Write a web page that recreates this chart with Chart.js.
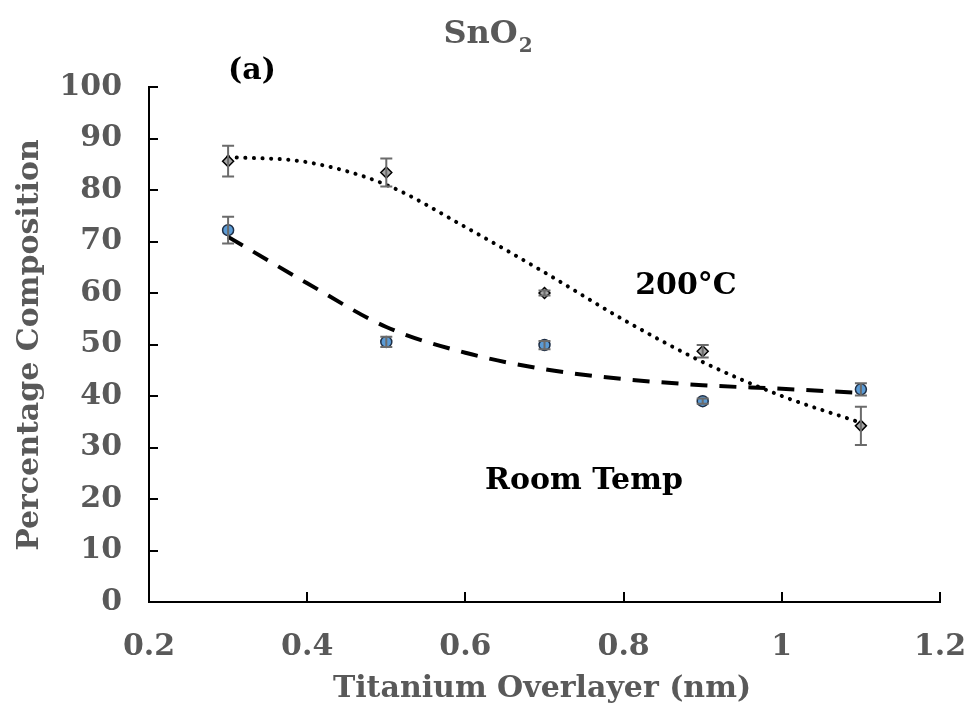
<!DOCTYPE html>
<html>
<head>
<meta charset="utf-8">
<script src="https://cdn.jsdelivr.net/npm/chart.js@4/dist/chart.umd.min.js"></script>
<style>
  html, body { margin: 0; padding: 0; background: #fff; }
  #wrap { width: 969px; height: 708px; }
</style>
</head>
<body>
<div id="wrap"><canvas id="c"></canvas></div>
<script>
// values
const thickness  = [0.3, 0.5, 0.7, 0.9, 1.1]
const hotValues  = [85.6, 83.4, 60.0, 48.7, 34.2]   // 200°C
const hotErrors  = [3.0, 2.7, 0.5, 1.2, 3.7]
const roomValues = [72.2, 50.5, 49.9, 39.0, 41.3]   // room temp
const roomErrors = [2.6, 1.0, 0.8, 0.5, 1.2]

// trend lines as drawn in the figure
const trendX    = [0.3, 0.4, 0.5, 0.6, 0.7, 0.8, 0.9, 1.0, 1.1]
const hotTrend  = [86.4, 85.4, 81.0, 72.8, 64.0, 54.8, 46.6, 40.0, 34.8]
const roomTrend = [70.9, 61.9, 53.4, 48.4, 45.2, 43.3, 42.1, 41.4, 40.6]

const xTicks = [0.2, 0.4, 0.6, 0.8, 1, 1.2]
const yTicks = [0, 10, 20, 30, 40, 50, 60, 70, 80, 90, 100]

const GREY = '#595959'
const FONT = '"DejaVu Serif", Georgia, serif'

function pts(xs, ys){
  return xs.map((x, i) => ({x: x, y: ys[i]}))
}

const errorBars = {
  id: 'errorBars',
  afterDatasetsDraw(chart){
    const ctx = chart.ctx, xs = chart.scales.x, ys = chart.scales.y
    const sets = [[hotValues, hotErrors], [roomValues, roomErrors]]
    ctx.save()
    ctx.strokeStyle = '#6b6b6b'
    ctx.lineWidth = 2
    for (const [vals, errs] of sets)
      thickness.forEach((t, i) => {
        const px = xs.getPixelForValue(t)
        const top = ys.getPixelForValue(vals[i] + errs[i])
        const bot = ys.getPixelForValue(vals[i] - errs[i])
        ctx.beginPath()
        ctx.moveTo(px, top); ctx.lineTo(px, bot)
        ctx.moveTo(px - 6, top); ctx.lineTo(px + 6, top)
        ctx.moveTo(px - 6, bot); ctx.lineTo(px + 6, bot)
        ctx.stroke()
      })
    ctx.restore()
  }
}

// tick marks point into the plot
const innerTicks = {
  id: 'innerTicks',
  afterDraw(chart){
    const ctx = chart.ctx, xs = chart.scales.x, ys = chart.scales.y
    const a = chart.chartArea
    ctx.save()
    ctx.strokeStyle = '#000'
    ctx.lineWidth = 2
    ctx.beginPath()
    xTicks.forEach(v => {
      const px = Math.round(xs.getPixelForValue(v))
      ctx.moveTo(px, a.bottom); ctx.lineTo(px, a.bottom - 10)
    })
    yTicks.forEach(v => {
      const py = Math.round(ys.getPixelForValue(v))
      ctx.moveTo(a.left, py); ctx.lineTo(a.left + 9, py)
    })
    ctx.stroke()
    ctx.restore()
  }
}

const labels = {
  id: 'labels',
  afterDraw(chart){
    const ctx = chart.ctx
    ctx.save()
    ctx.textBaseline = 'middle'
    // title SnO2
    ctx.fillStyle = GREY
    ctx.font = 'bold 32px ' + FONT
    ctx.textAlign = 'left'
    const w = ctx.measureText('SnO').width
    const x0 = 488 - (w + 15) / 2
    ctx.fillText('SnO', x0, 35)
    ctx.font = 'bold 20px ' + FONT
    ctx.fillText('2', x0 + w + 1, 47)

    // axis titles
    ctx.font = 'bold 30px ' + FONT
    ctx.textAlign = 'center'
    ctx.fillText('Titanium Overlayer (nm)', 542, 689)
    ctx.save()
    ctx.translate(30, 345)
    ctx.rotate(-Math.PI / 2)
    ctx.fillText('Percentage Composition', 0, 0)
    ctx.restore()

    // annotations
    ctx.fillStyle = '#000'
    ctx.fillText('(a)', 252, 71)
    ctx.fillText('200°C', 686, 286)
    ctx.fillText('Room Temp', 584, 481)
    ctx.restore()
  }
}

new Chart(document.getElementById('c'), {
  type: 'scatter',
  data: {
    datasets: [
      {
        label: '200°C',
        data: pts(thickness, hotValues),
        pointStyle: 'rectRot',
        pointRadius: 5.5,
        backgroundColor: '#a6a6a6',
        borderColor: '#000',
        borderWidth: 1.5,
        order: 0
      },
      {
        label: 'Room Temp',
        data: pts(thickness, roomValues),
        pointStyle: 'circle',
        pointRadius: 5.5,
        backgroundColor: '#5b9bd5',
        borderColor: '#1f2f46',
        borderWidth: 1.5,
        order: 0
      },
      {
        label: '200°C trend',
        data: pts(trendX, hotTrend),
        showLine: true,
        pointRadius: 0,
        borderColor: '#000',
        borderWidth: 4,
        borderDash: [0.1, 8.5],
        borderCapStyle: 'round',
        cubicInterpolationMode: 'monotone',
        order: 1
      },
      {
        label: 'Room Temp trend',
        data: pts(trendX, roomTrend),
        showLine: true,
        pointRadius: 0,
        borderColor: '#000',
        borderWidth: 4,
        borderDash: [17, 12],
        cubicInterpolationMode: 'monotone',
        order: 1
      }
    ]
  },
  options: {
    responsive: true,
    maintainAspectRatio: false,
    animation: false,
    layout: { padding: { top: 87, right: 29, left: 0, bottom: 0 } },
    plugins: { legend: { display: false }, tooltip: { enabled: false } },
    scales: {
      x: {
        type: 'linear', min: 0.2, max: 1.2,
        afterBuildTicks: s => { s.ticks = xTicks.map(v => ({value: v})) },
        afterFit: s => { s.height = 106; s.paddingRight = 0; s.paddingLeft = 0 },
        grid: { drawOnChartArea: false, drawTicks: false },
        border: { color: '#000', width: 2 },
        ticks: {
          padding: 27,
          color: GREY,
          font: { family: FONT, size: 30, weight: 'bold' },
          maxRotation: 0,
          callback: v => String(Number(v.toFixed(1)))
        }
      },
      y: {
        type: 'linear', min: 0, max: 100,
        afterBuildTicks: s => { s.ticks = yTicks.map(v => ({value: v})) },
        afterFit: s => { s.width = 149; s.paddingTop = 0; s.paddingBottom = 0 },
        grid: { drawOnChartArea: false, drawTicks: false },
        border: { color: '#000', width: 2 },
        ticks: {
          padding: 27,
          color: GREY,
          font: { family: FONT, size: 30, weight: 'bold' }
        }
      }
    }
  },
  plugins: [errorBars, innerTicks, labels]
})
</script>
</body>
</html>
